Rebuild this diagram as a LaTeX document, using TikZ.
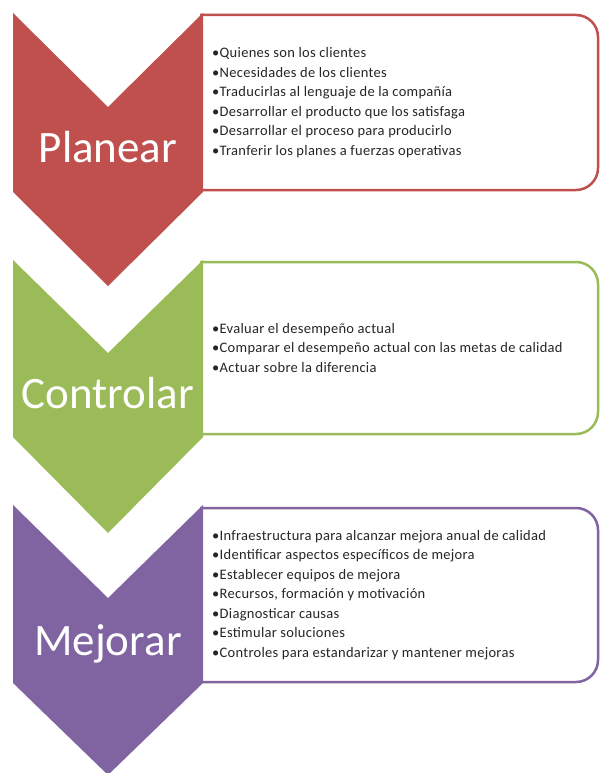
\documentclass[tikz,border=0pt]{standalone}
\usepackage{fontspec}
\setmainfont{Carlito}
\newfontfamily\itemfont[LetterSpace=2]{Carlito}
\definecolor{cred}{HTML}{C0504D}
\definecolor{cgreen}{HTML}{9BBB59}
\definecolor{cpurple}{HTML}{8064A2}
\begin{document}
\begin{tikzpicture}[x=1pt,y=-1pt,
  chev/.style={fill=#1, draw=none},
  card/.style={draw=#1, line width=2.5pt, fill=white, rounded corners=22pt},
  biglabel/.style={text=white, font=\fontsize{45}{54}\selectfont, inner sep=0pt, anchor=base},
  items/.style={font=\itemfont\fontsize{14.5}{19.5}\selectfont, align=left, anchor=west, inner sep=0pt, text=black!85}
]
\useasboundingbox[fill=white] (0,0) rectangle (600,773);
% cards
\path[card=cred] (200,15) -- (598,15) -- (598,190) -- (200,190);
\path[card=cgreen] (200,262) -- (598,262) -- (598,434) -- (200,434);
\path[card=cpurple] (200,508) -- (598,508) -- (598,682) -- (200,682);
% chevrons
\path[chev=cred] (13,13) -- (108,107) -- (203,13) -- (203,192) -- (108,286) -- (13,192) -- cycle;
\path[chev=cgreen] (13,260) -- (108,353) -- (203,260) -- (203,437) -- (108,533) -- (13,437) -- cycle;
\path[chev=cpurple] (13,505) -- (108,598) -- (203,505) -- (203,683) -- (108,775) -- (13,683) -- cycle;
% labels
\node[biglabel] (planear) at (108,162) {Planear};
\node[biglabel] (controlar) at (108,408) {Controlar};
\node[biglabel] (mejorar) at (108,655) {Mejorar};
% items
\node[items] (itplan) at (212,102.5) {\textbullet Quienes son los clientes\\
\textbullet Necesidades de los clientes\\
\textbullet Traducirlas al lenguaje de la compañía\\
\textbullet Desarrollar el producto que los satisfaga\\
\textbullet Desarrollar el proceso para producirlo\\
\textbullet Tranferir los planes a fuerzas operativas};
\node[items] (itcont) at (212,348) {\textbullet Evaluar el desempeño actual\\
\textbullet Comparar el desempeño actual con las metas de calidad\\
\textbullet Actuar sobre la diferencia};
\node[items] (itmej) at (212,595) {\textbullet Infraestructura para alcanzar mejora anual de calidad\\
\textbullet Identificar aspectos específicos de mejora\\
\textbullet Establecer equipos de mejora\\
\textbullet Recursos, formación y motivación\\
\textbullet Diagnosticar causas\\
\textbullet Estimular soluciones\\
\textbullet Controles para estandarizar y mantener mejoras};
\end{tikzpicture}
\end{document}
